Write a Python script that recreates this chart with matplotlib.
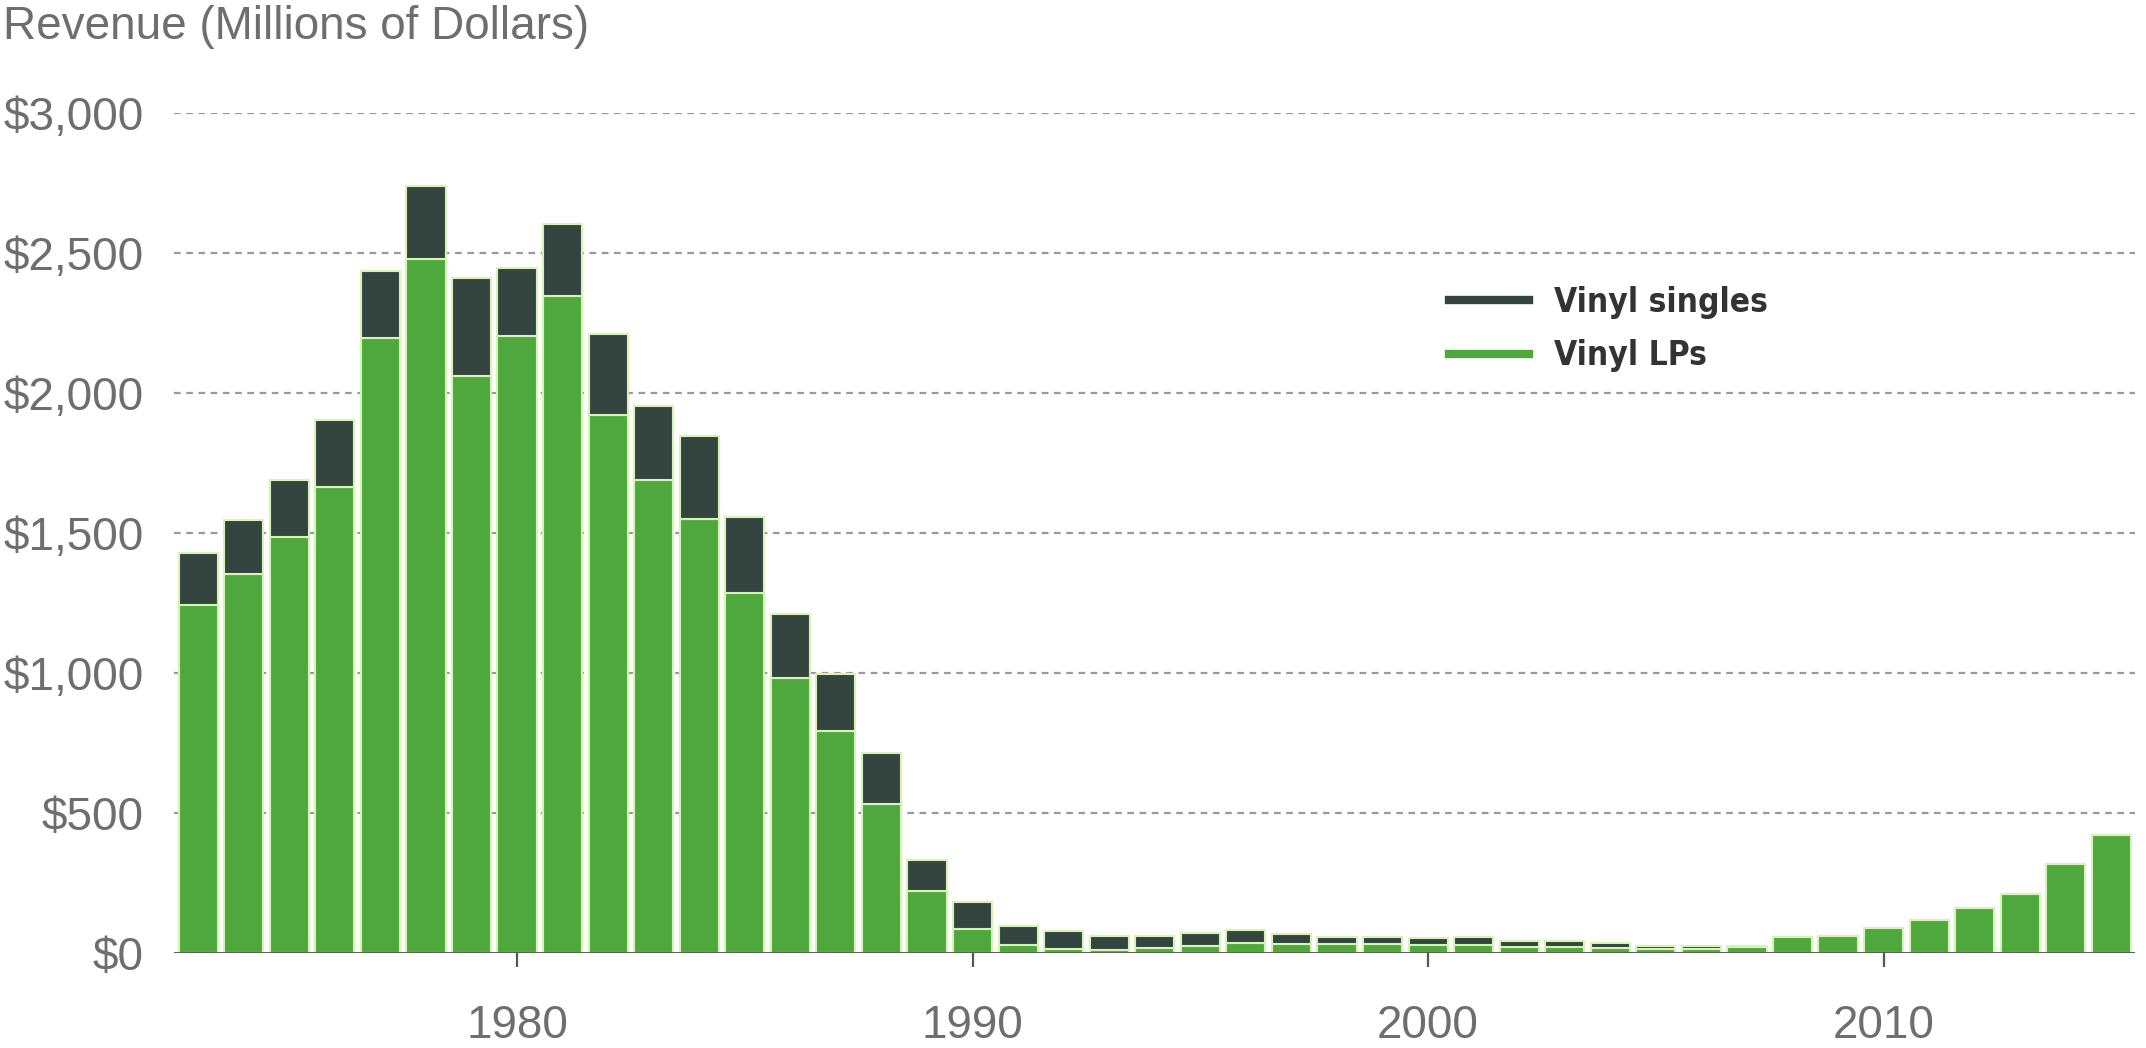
import numpy as np
import matplotlib
matplotlib.use("Agg")
import matplotlib.pyplot as plt
from matplotlib.lines import Line2D
from matplotlib.ticker import FuncFormatter
from matplotlib import font_manager

plt.rcParams['font.family'] = ['Liberation Sans', 'DejaVu Sans']

# vinyl revenue by year, millions of dollars
years = list(range(1973, 2016))
lps = [1244, 1354, 1485, 1663, 2196, 2480, 2060, 2202, 2345, 1922,
       1690, 1551, 1286, 984, 794, 532, 222, 86, 27, 14,
       11, 17, 25, 36, 33, 34, 31, 28, 27, 20,
       22, 19, 14, 16, 23, 57, 62, 89, 119, 161,
       212, 319, 423]
singles = [185, 194, 206, 242, 241, 258, 351, 245, 259, 288,
           262, 295, 270, 226, 201, 182, 111, 96, 68, 66,
           50, 43, 45, 47, 35, 24, 27, 24, 30, 23,
           22, 16, 11, 9, 2, 0, 0, 0, 0, 0,
           0, 0, 0]
ytick_vals = [0, 500, 1000, 1500, 2000, 2500, 3000]
xtick_vals = [1980, 1990, 2000, 2010]

lp_color = '#4fa83d'
single_color = '#344540'
edge = '#d6f5b4'
text_gray = '#6e6e6e'

# narrow bold face for the legend if one is around
names = {f.name for f in font_manager.fontManager.ttflist}
if 'Liberation Sans Narrow' in names:
    leg_prop = {'family': 'Liberation Sans Narrow', 'weight': 'bold', 'size': 26}
else:
    leg_prop = {'family': 'DejaVu Sans', 'stretch': 'condensed', 'weight': 'bold', 'size': 24}

fig = plt.figure(figsize=(21.46, 10.48), dpi=100)
ax = fig.add_axes([0.0811, 0.0906, 0.9138, 0.8016])

ax.bar(years, lps, width=0.86, color=lp_color, edgecolor=edge, linewidth=1.5, zorder=3)
ax.bar(years, singles, bottom=lps, width=0.86, color=single_color,
       edgecolor=edge, linewidth=1.5, zorder=3)

ax.set_xlim(1972.47, 2015.52)
ax.set_ylim(0, 3000)

# dashed gridlines above zero, solid baseline at zero
for v in ytick_vals[1:]:
    ax.axhline(v, color='#9a9a9a', linewidth=1.6, linestyle=(0, (3, 2.5)), zorder=1)
ax.axhline(0, color='#4a5048', linewidth=2.0, zorder=4)

for s in ax.spines.values():
    s.set_visible(False)

ax.set_yticks(ytick_vals)
ax.yaxis.set_major_formatter(FuncFormatter(lambda v, p: '${:,.0f}'.format(v)))
ax.tick_params(axis='y', length=0, pad=22, labelsize=33, labelcolor=text_gray)
ax.set_xticks(xtick_vals)
ax.tick_params(axis='x', length=10, width=1.6, color='#555555', direction='out',
               pad=27, labelsize=33, labelcolor=text_gray)

fig.text(0.0015, 1 - 27 / 1048, 'Revenue (Millions of Dollars)', fontsize=33,
         color=text_gray, va='center', ha='left')

handles = [Line2D([0], [0], color=single_color, linewidth=6),
           Line2D([0], [0], color=lp_color, linewidth=6)]
leg = ax.legend(handles, ['Vinyl singles', 'Vinyl LPs'], loc='upper left',
                bbox_to_anchor=(0.635, 0.83), frameon=False, handlelength=2.4,
                handletextpad=0.75, labelspacing=0.62, prop=leg_prop)
for t in leg.get_texts():
    t.set_color('#333333')

fig.savefig('out.png', dpi=100, facecolor='white')
